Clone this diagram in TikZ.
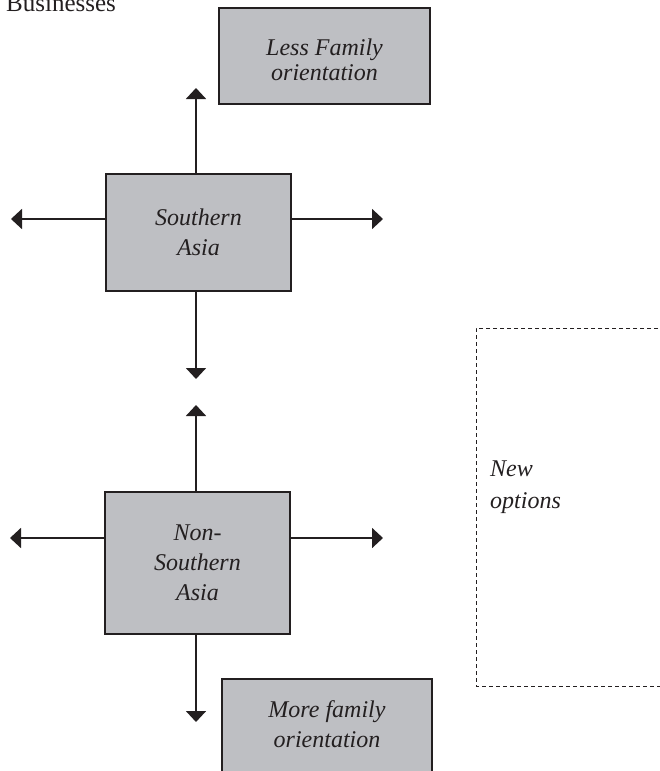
\documentclass[tikz,border=0pt]{standalone}
\usepackage{fontspec}
\setmainfont{Liberation Serif}
\usetikzlibrary{arrows.meta}
\definecolor{boxgray}{RGB}{190,191,195}
\definecolor{ink}{RGB}{35,31,32}
\begin{document}
\begin{tikzpicture}[x=1pt,y=-1pt,
  box/.style={draw=ink, line width=1.6pt, fill=boxgray, inner sep=0pt, align=center,
              font=\fontsize{24}{30}\selectfont\itshape, text=ink},
  arr/.style={draw=ink, line width=1.8pt, -{Triangle[width=20pt,length=11pt]}},
  dashbox/.style={draw=ink, line width=0.9pt, dash pattern=on 4pt off 3pt, inner sep=0pt},
  lbl/.style={font=\fontsize{24}{32}\selectfont\itshape, text=ink, align=left, inner sep=0pt},
]
\useasboundingbox (0,0) rectangle (659,771);

\node[anchor=base west, inner sep=0pt, font=\fontsize{25}{30}\selectfont, text=ink] (biz) at (6,12) {Businesses};

\node[box, minimum width=211pt, minimum height=96pt] (less) at (324.5,56) {};
\node[lbl, align=center, font=\fontsize{24}{25}\selectfont\itshape] (lesst) at (less.center) [yshift=-4pt] {Less Family\\orientation};
\node[box, minimum width=185pt, minimum height=117pt] (south) at (198.5,232.5) {Southern\\Asia};
\node[box, minimum width=185pt, minimum height=142pt] (non) at (197.5,563) {Non-\\Southern\\Asia};
\node[box, minimum width=210pt, minimum height=97pt] (more) at (327,727.5) {};
\node[lbl, align=center, font=\fontsize{24}{30}\selectfont\itshape] (moret) at (327,724) {More family\\orientation};

% dashed "New options" region (right side runs off the page)
\draw[dashbox] (665,328) -- (476,328) -- (476,686) -- (665,686);
\node[lbl, anchor=west] (newopt) at (490,487) {New\\options};

% arrows around Southern Asia
\coordinate (su) at (196,88);
\coordinate (sd) at (196,379);
\coordinate (sl) at (11,219);
\coordinate (sr) at (383,219);
\draw[arr] (su |- south.north) -- (su);
\draw[arr] (sd |- south.south) -- (sd);
\draw[arr] (south.west |- sl) -- (sl);
\draw[arr] (south.east |- sr) -- (sr);

% arrows around Non-Southern Asia
\coordinate (nu) at (196,405);
\coordinate (nd) at (196,722);
\coordinate (nl) at (10,538);
\coordinate (nr) at (383,538);
\draw[arr] (nu |- non.north) -- (nu);
\draw[arr] (nd |- non.south) -- (nd);
\draw[arr] (non.west |- nl) -- (nl);
\draw[arr] (non.east |- nr) -- (nr);
\end{tikzpicture}
\end{document}
